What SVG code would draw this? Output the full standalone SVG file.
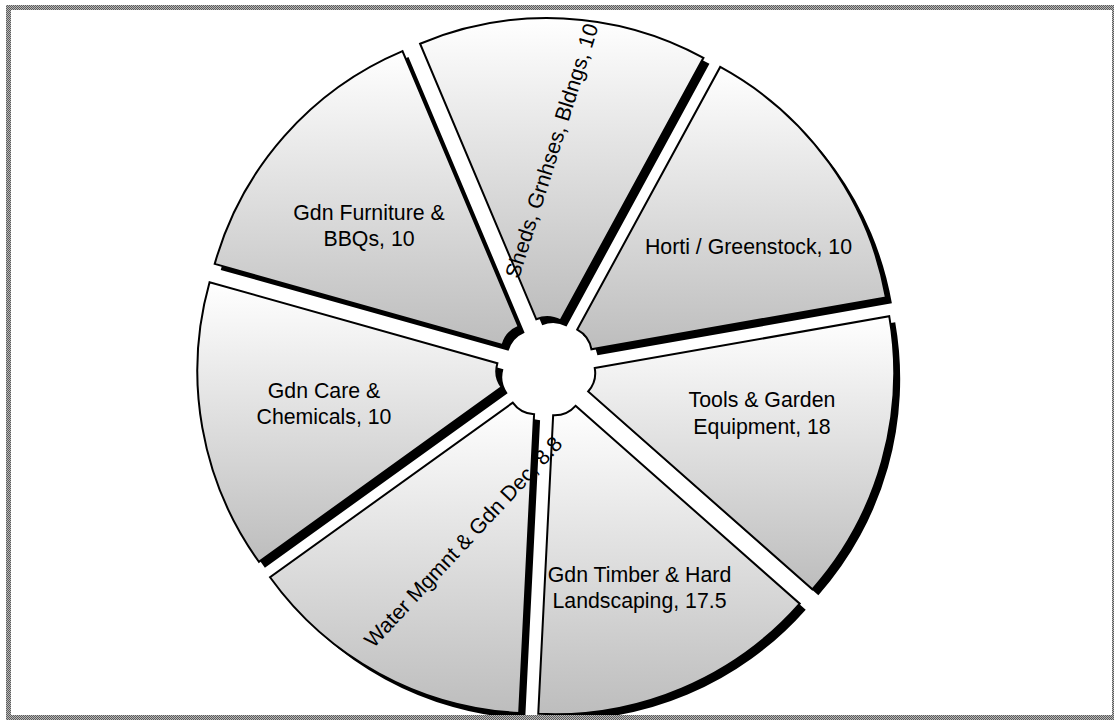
<svg xmlns="http://www.w3.org/2000/svg" xmlns:xlink="http://www.w3.org/1999/xlink" width="1114" height="720" viewBox="0 0 1114 720">
<style>
.shadow{fill:#000;stroke:none}
.slice{fill:url(#g);stroke:#000;stroke-width:2;stroke-linejoin:miter}
.lbl{font-family:"Liberation Sans",Arial,sans-serif;font-size:21.3px;fill:#000;text-anchor:middle}
</style>
<defs>
<linearGradient id="g" x1="0" y1="0" x2="0" y2="1">
<stop offset="0" stop-color="#ffffff"/>
<stop offset="1" stop-color="#bdbdbd"/>
</linearGradient>
<pattern id="chk" width="2" height="2" patternUnits="userSpaceOnUse">
<rect width="2" height="2" fill="#b8b8b8"/>
<rect width="1" height="1" fill="#5c5c5c"/>
<rect x="1" y="1" width="1" height="1" fill="#5c5c5c"/>
</pattern>
<path id="sH" d="M577.25,329.56 L720.21,66.95 A327,327 0 0 1 885.89,297.37 L591.43,349.29 A28,28 0 0 0 577.25,329.56 Z"/>
<path id="sT" d="M594.75,368.10 L889.21,316.18 A327,327 0 0 1 812.36,589.33 L588.17,391.49 A28,28 0 0 0 594.75,368.10 Z"/>
<path id="sTi" d="M575.54,405.80 L799.73,603.64 A327,327 0 0 1 538.25,713.87 L553.15,415.24 A28,28 0 0 0 575.54,405.80 Z"/>
<path id="sW" d="M534.08,414.29 L519.18,712.92 A327,327 0 0 1 270.04,577.29 L512.75,402.67 A28,28 0 0 0 534.08,414.29 Z"/>
<path id="sC" d="M501.60,387.17 L258.89,561.79 A327,327 0 0 1 209.56,282.26 L497.38,363.24 A28,28 0 0 0 501.60,387.17 Z"/>
<path id="sF" d="M502.55,344.86 L214.73,263.88 A327,327 0 0 1 402.48,51.12 L518.62,326.64 A28,28 0 0 0 502.55,344.86 Z"/>
<path id="sS" d="M536.22,319.23 L420.08,43.71 A327,327 0 0 1 703.45,57.83 L560.49,320.44 A28,28 0 0 0 536.22,319.23 Z"/>
</defs>
<rect width="1114" height="720" fill="#fff"/>
<g id="horti">
<use xlink:href="#sH" class="shadow" transform="translate(6,6)"/>
<use xlink:href="#sH" class="slice"/>
<text class="lbl" x="748.5" y="253.5">Horti / Greenstock, 10</text>
</g>
<g id="tools">
<use xlink:href="#sT" class="shadow" transform="translate(6,6)"/>
<use xlink:href="#sT" class="slice"/>
<text class="lbl" x="762" y="407"><tspan x="762" y="407">Tools &amp; Garden</tspan><tspan x="762" y="434">Equipment, 18</tspan></text>
</g>
<g id="timber">
<use xlink:href="#sTi" class="shadow" transform="translate(6,6)"/>
<use xlink:href="#sTi" class="slice"/>
<text class="lbl" x="639.5" y="582"><tspan x="639.5" y="582">Gdn Timber &amp; Hard</tspan><tspan x="639.5" y="608">Landscaping, 17.5</tspan></text>
</g>
<g id="water">
<use xlink:href="#sW" class="shadow" transform="translate(6,6)"/>
<use xlink:href="#sW" class="slice"/>
<text class="lbl" transform="translate(468.6,546.8) rotate(-47)" x="0" y="0">Water Mgmnt &amp; Gdn Dec, 8.8</text>
</g>
<g id="care">
<use xlink:href="#sC" class="shadow" transform="translate(6,6)"/>
<use xlink:href="#sC" class="slice"/>
<text class="lbl" x="324" y="397.5"><tspan x="324" y="397.5">Gdn Care &amp;</tspan><tspan x="324" y="424">Chemicals, 10</tspan></text>
</g>
<g id="furniture">
<use xlink:href="#sF" class="shadow" transform="translate(6,6)"/>
<use xlink:href="#sF" class="slice"/>
<text class="lbl" x="369" y="219.5"><tspan x="369" y="219.5">Gdn Furniture &amp;</tspan><tspan x="369" y="245.5">BBQs, 10</tspan></text>
</g>
<g id="sheds">
<use xlink:href="#sS" class="shadow" transform="translate(6,6)"/>
<use xlink:href="#sS" class="slice"/>
<text class="lbl" transform="translate(558.7,153) rotate(-72.5)" x="0" y="0">Sheds, Grnhses, Bldngs, 10</text>
</g>
<path id="frame" fill="url(#chk)" fill-rule="evenodd" d="M6,5 H1120 V725 H6 Z M11,10 H1112 V715 H11 Z"/>
</svg>
